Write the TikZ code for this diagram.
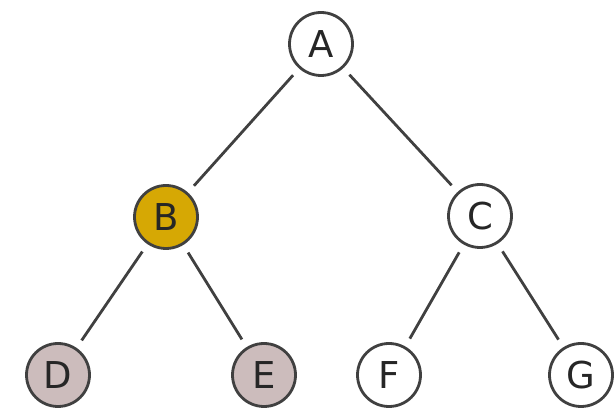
\documentclass[tikz,border=0pt]{standalone}
\usepackage{fontspec}
\setmainfont{DejaVu Sans}
\begin{document}
\begin{tikzpicture}[x=1pt,y=1pt,
  vert/.style={circle,draw=black!75,line width=2.8pt,minimum size=63pt,inner sep=0pt,
    fill=white,font=\fontsize{37}{42}\selectfont,text=black!85},
  picked/.style={vert,fill=gold},
  leafgray/.style={vert,fill=rose},
  link/.style={draw=black!75,line width=2.8pt,shorten >=9pt,shorten <=9pt}]
\definecolor{gold}{RGB}{214,168,4}
\definecolor{rose}{RGB}{204,188,188}
\useasboundingbox (0,0) rectangle (615,419);
\node[vert]     (A) at (321,375) {A};
\node[picked]   (B) at (166,202) {B};
\node[vert]     (C) at (480,203) {C};
\node[leafgray] (D) at (58,44)   {D};
\node[leafgray] (E) at (264,44)  {E};
\node[vert]     (F) at (389,44)  {F};
\node[vert]     (G) at (581,44)  {G};
\draw[link] (A) -- (B);
\draw[link] (A) -- (C);
\draw[link] (B) -- (D);
\draw[link] (B) -- (E);
\draw[link] (C) -- (F);
\draw[link] (C) -- (G);
\end{tikzpicture}
\end{document}
